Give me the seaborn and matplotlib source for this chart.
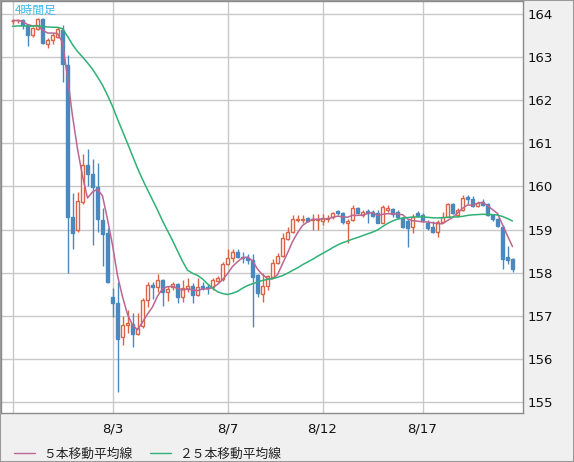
import numpy as np
import pandas as pd
import matplotlib
matplotlib.use("Agg")
import matplotlib.pyplot as plt
import seaborn as sns
from matplotlib.lines import Line2D
from matplotlib.patches import Rectangle

# ---------------- data (4-hour candles) ----------------
opens = [163.84, 163.85, 163.86, 163.74, 163.51, 163.64, 163.88, 163.30, 163.40, 163.47,
         163.63, 162.82, 159.28, 158.99, 159.65, 160.50, 160.28, 159.99, 159.22, 158.91,
         157.44, 157.29, 156.50, 156.78, 156.81, 156.57, 156.76, 157.36, 157.71, 157.67,
         157.83, 157.54, 157.66, 157.74, 157.44, 157.61, 157.69, 157.48, 157.69, 157.67,
         157.66, 157.81, 157.85, 158.19, 158.33, 158.47, 158.36, 158.33, 158.29, 157.94,
         157.50, 157.68, 157.90, 158.22, 158.39, 158.77, 158.94, 159.21, 159.23, 159.26,
         159.23, 159.23, 159.20, 159.24, 159.28, 159.43, 159.38, 159.16, 159.22, 159.49,
         159.33, 159.44, 159.41, 159.38, 159.16, 159.45, 159.47, 159.41, 159.26, 159.20,
         159.05, 159.38, 159.34, 159.16, 159.07, 158.95, 159.18, 159.30, 159.59, 159.33,
         159.45, 159.75, 159.70, 159.55, 159.65, 159.59, 159.34, 159.24, 159.05, 158.36,
         158.32]
highs = [163.88, 163.88, 163.88, 163.76, 163.70, 163.90, 163.91, 163.45, 163.56, 163.70,
         163.74, 163.05, 159.85, 159.88, 160.75, 160.86, 160.64, 160.55, 159.50, 159.03,
         157.64, 157.79, 157.00, 157.13, 157.06, 157.07, 157.42, 157.79, 157.79, 157.97,
         157.86, 157.70, 157.78, 157.76, 157.83, 157.87, 157.75, 157.87, 157.78, 157.74,
         157.88, 157.93, 158.25, 158.54, 158.54, 158.56, 158.47, 158.43, 158.43, 157.98,
         158.00, 157.95, 158.31, 158.46, 158.91, 159.07, 159.34, 159.34, 159.34, 159.30,
         159.36, 159.37, 159.35, 159.33, 159.41, 159.45, 159.40, 159.24, 159.57, 159.52,
         159.45, 159.47, 159.45, 159.45, 159.57, 159.57, 159.50, 159.45, 159.28, 159.25,
         159.35, 159.42, 159.38, 159.22, 159.20, 159.23, 159.40, 159.62, 159.62, 159.50,
         159.80, 159.80, 159.78, 159.67, 159.70, 159.61, 159.36, 159.27, 159.10, 158.62,
         158.35]
lows = [163.77, 163.80, 163.64, 163.26, 163.47, 163.62, 163.30, 163.22, 163.30, 163.45,
        162.42, 157.99, 158.55, 158.95, 159.60, 160.00, 158.65, 158.95, 158.15, 157.75,
        156.98, 155.24, 156.32, 156.60, 156.28, 156.55, 156.72, 157.20, 157.38, 157.55,
        157.23, 157.35, 157.60, 157.30, 157.33, 157.55, 157.30, 157.45, 157.60, 157.50,
        157.60, 157.78, 157.80, 158.17, 158.25, 158.35, 158.22, 158.20, 156.74, 157.44,
        157.33, 157.60, 157.88, 158.20, 158.37, 158.75, 158.92, 159.18, 159.15, 159.17,
        159.00, 159.00, 159.10, 159.17, 159.25, 159.33, 159.12, 158.69, 159.20, 159.36,
        159.28, 159.15, 159.28, 159.14, 159.14, 159.40, 159.30, 159.25, 159.03, 158.60,
        158.93, 159.30, 159.18, 158.98, 158.92, 158.83, 159.15, 159.28, 159.36, 159.30,
        159.43, 159.60, 159.52, 159.52, 159.55, 159.32, 159.20, 159.05, 158.08, 158.20,
        158.02]
closes = [163.84, 163.85, 163.74, 163.51, 163.68, 163.88, 163.32, 163.40, 163.50, 163.64,
          162.84, 159.28, 158.92, 159.67, 160.50, 160.28, 159.99, 159.24, 158.89, 157.79,
          157.29, 156.46, 156.78, 156.84, 156.57, 156.71, 157.36, 157.71, 157.67, 157.83,
          157.54, 157.63, 157.73, 157.44, 157.64, 157.69, 157.48, 157.66, 157.64, 157.64,
          157.83, 157.87, 158.20, 158.33, 158.49, 158.37, 158.33, 158.29, 157.90, 157.53,
          157.70, 157.92, 158.22, 158.39, 158.80, 158.94, 159.24, 159.24, 159.25, 159.20,
          159.25, 159.25, 159.26, 159.26, 159.39, 159.39, 159.18, 159.20, 159.49, 159.38,
          159.41, 159.38, 159.31, 159.14, 159.52, 159.49, 159.36, 159.30, 159.05, 159.03,
          159.28, 159.31, 159.22, 159.03, 158.94, 159.18, 159.30, 159.59, 159.39, 159.45,
          159.72, 159.70, 159.55, 159.62, 159.57, 159.34, 159.24, 159.09, 158.32, 158.29,
          158.08]
# closes before the visible window (only used to start the moving averages)
warmup_closes = [163.66, 163.70, 163.64, 163.68, 163.72, 163.66, 163.70, 163.67, 163.69, 163.65,
                 163.71, 163.68, 163.66, 163.70, 163.68, 163.69, 163.67, 163.70, 163.66, 163.69,
                 163.84, 163.86, 163.85, 163.84]

x_tick_pos = [0, 20, 43, 62, 82]
x_tick_labels = ["", "8/3", "8/7", "8/12", "8/17"]
y_ticks = [155, 156, 157, 158, 159, 160, 161, 162, 163, 164]
ma_labels = ["５本移動平均線", "２５本移動平均線"]
title_label = "4時間足"

# ---------------- styling ----------------
RED = "#dc6446"
BLUE = "#4a88be"
PINK = "#bc6690"
GREEN = "#2fb176"
GRID = "#c8c8c8"
BG = "#f0f0f0"

sns.set_theme(style="white")
plt.rcParams['font.family'] = ['DejaVu Sans', 'Noto Sans CJK JP']

W, H = 574, 462
fig = plt.figure(figsize=(W / 100, H / 100), dpi=100, facecolor=BG)
ax = fig.add_axes([1 / W, 49 / H, 522 / W, 412 / H])
ax.set_facecolor("white")

df = pd.DataFrame({"open": opens, "high": highs, "low": lows, "close": closes})
df["idx"] = np.arange(len(df))
allc = pd.Series(warmup_closes + closes)
n_w = len(warmup_closes)
df["ma5"] = allc.rolling(5).mean().iloc[n_w:].values
df["ma25"] = allc.rolling(25).mean().iloc[n_w:].values

up = df["close"] >= df["open"]
edge = np.where(up, RED, BLUE)
face = np.where(up, "white", BLUE)

# wicks
ax.vlines(df["idx"], df["low"], df["high"], colors=edge, lw=1.0, zorder=3)
# bodies
bottoms = np.minimum(df["open"], df["close"])
heights = np.abs(df["close"] - df["open"])
ax.bar(df["idx"], heights, bottom=bottoms, width=0.72, color=face,
       edgecolor=edge, linewidth=1.0, zorder=4)

sns.lineplot(data=df, x="idx", y="ma5", color=PINK, lw=1.1, ax=ax, zorder=5)
sns.lineplot(data=df, x="idx", y="ma25", color=GREEN, lw=1.1, ax=ax, zorder=5)

ax.set_xlim(-2.3, 102.1)
ax.set_ylim(154.745, 164.30)
ax.set_xticks(x_tick_pos)
ax.set_xticklabels(x_tick_labels)
ax.set_yticks(y_ticks)
ax.yaxis.tick_right()
ax.tick_params(axis="both", length=0, labelsize=9.5, colors="#111111")
ax.tick_params(axis="x", pad=7)
ax.tick_params(axis="y", pad=3)
ax.set_xlabel("")
ax.set_ylabel("")
ax.grid(True, color=GRID, lw=1.0, zorder=0)
ax.set_axisbelow(True)
for s in ax.spines.values():
    s.set_color("#8a8a8a")
    s.set_linewidth(1.0)

ax.text(14 / 522, 1 - 9 / 412, title_label, transform=ax.transAxes, color="#3cb9ec",
        fontsize=8.5, va="center", ha="left", family=['Noto Sans CJK JP', 'DejaVu Sans'],
        zorder=6)

handles = [Line2D([], [], color=PINK, lw=1.0), Line2D([], [], color=GREEN, lw=1.0)]
leg = fig.legend(handles, ma_labels, loc="center left",
                 bbox_to_anchor=(14 / W, 1 - 454 / H), ncol=2, frameon=False,
                 borderpad=0, borderaxespad=0, handlelength=1.65, handletextpad=0.6,
                 columnspacing=1.4, prop={"family": ['Noto Sans CJK JP', 'DejaVu Sans'],
                                          "size": 9.2})
for t in leg.get_texts():
    t.set_color("#222222")

fig.patches.append(Rectangle((0, 0), 1, 1, transform=fig.transFigure, fill=False,
                             edgecolor="#9a9a9a", lw=1.5))

fig.savefig("out.png", dpi=100, facecolor=BG)
